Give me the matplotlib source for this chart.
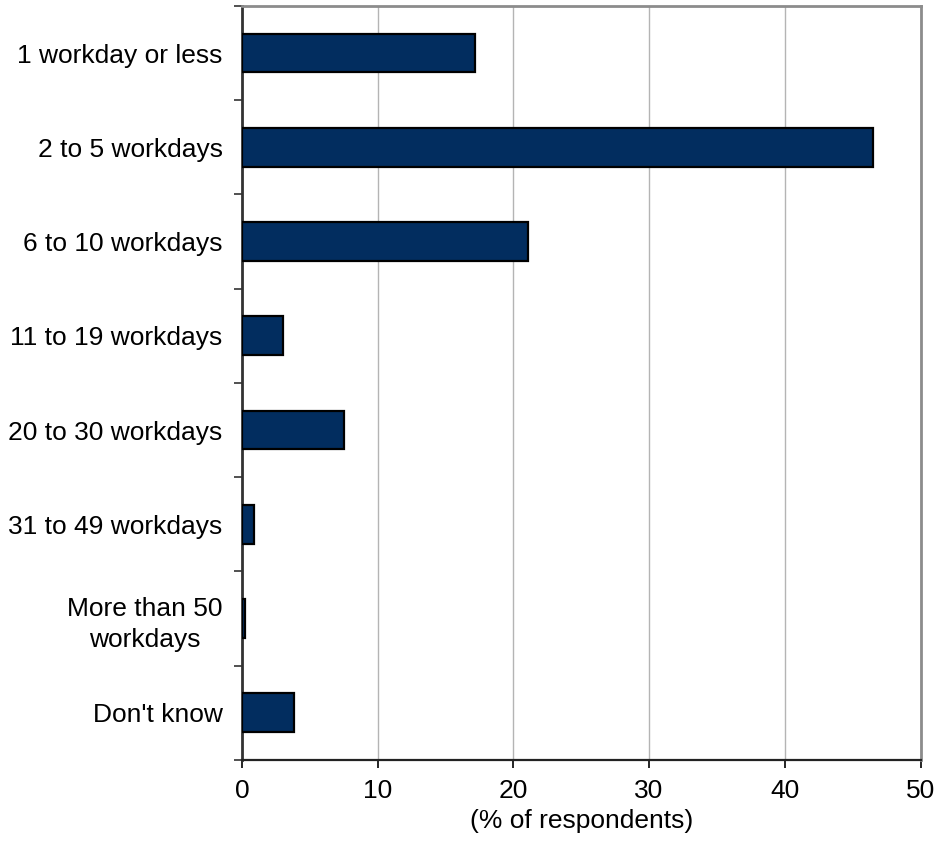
import matplotlib
matplotlib.use("Agg")
import matplotlib.pyplot as plt
import numpy as np

plt.rcParams['font.family'] = ['Liberation Sans', 'DejaVu Sans']

categories = ["1 workday or less", "2 to 5 workdays", "6 to 10 workdays",
              "11 to 19 workdays", "20 to 30 workdays", "31 to 49 workdays",
              "More than 50\nworkdays", "Don't know"]
shares = [17.2, 46.5, 21.1, 3.0, 7.5, 0.9, 0.25, 3.8]
xticks = [0, 10, 20, 30, 40, 50]

fig = plt.figure(figsize=(9.39, 8.5), dpi=100)
ax = fig.add_axes([0.2577, 0.106, 0.7226, 0.887])

pos = np.arange(len(categories))
ax.barh(pos, shares, height=0.41, color="#022d5f", edgecolor="black",
        linewidth=1.6, zorder=3)

ax.set_ylim(len(categories) - 0.5, -0.5)
ax.set_xlim(0, 50)
ax.set_xticks(xticks)
ax.set_xticklabels([str(t) for t in xticks])
ax.set_yticks(pos)
ax.set_yticklabels(categories, multialignment="center", linespacing=1.35)
ax.set_yticks(np.arange(len(categories) + 1) - 0.5, minor=True)

ax.tick_params(axis="y", which="major", length=0, pad=14, labelsize=19)
ax.tick_params(axis="y", which="minor", length=6, width=1.2, color="#333333")
ax.tick_params(axis="x", which="major", length=6, width=1.2, pad=8,
               labelsize=19, direction="out")

ax.xaxis.grid(True, color="#b4b4b4", linewidth=1.0, zorder=0)
ax.set_axisbelow(True)

ax.spines["left"].set_color("#333333")
ax.spines["left"].set_linewidth(2.0)
ax.spines["bottom"].set_color("#222222")
ax.spines["bottom"].set_linewidth(1.6)
for side in ("top", "right"):
    ax.spines[side].set_color("#8c8c8c")
    ax.spines[side].set_linewidth(2.0)

ax.set_xlabel("(% of respondents)", fontsize=19, labelpad=4)

fig.savefig("out.png", dpi=100)
